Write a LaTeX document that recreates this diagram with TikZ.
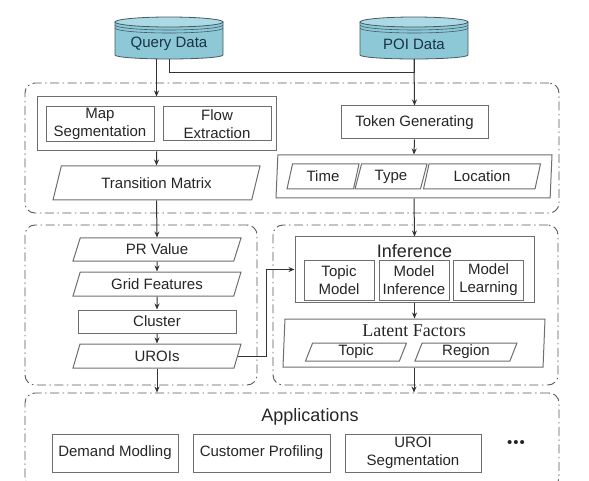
\documentclass[tikz,border=0pt]{standalone}
\usepackage{fontspec}
\setmainfont{Liberation Sans}
\newfontfamily\latentfont{Liberation Serif}
\usetikzlibrary{shapes.geometric,arrows.meta,calc,positioning}

\definecolor{drumfill}{RGB}{140,200,214}
\definecolor{drumtop}{RGB}{172,218,228}
\definecolor{drumline}{RGB}{70,90,98}
\definecolor{drumtext}{RGB}{25,50,70}
\definecolor{boxline}{RGB}{110,110,110}

\begin{document}
\begin{tikzpicture}[x=1pt, y=-1pt, >={Stealth[length=6pt,width=5pt]},
  box/.style={draw=boxline, line width=1pt, fill=white, inner sep=2pt, align=center,
    text=black!85, font=\fontsize{15}{17.5}\selectfont},
  para/.style={box, trapezium, trapezium left angle=61, trapezium right angle=119,
    trapezium stretches body},
  region/.style={draw=black!65, line width=0.9pt, rounded corners=10pt,
    dash pattern=on 9pt off 3.5pt on 1.5pt off 3.5pt},
  link/.style={draw=black!80, line width=1pt},
  title/.style={font=\fontsize{18}{20}\selectfont, text=black!85},
  drumlabel/.style={font=\fontsize{15}{17}\selectfont, text=drumtext,
    minimum width=108pt, minimum height=30pt}]
  \useasboundingbox (0,0) rectangle (589,481);

  % dashed stages
  \node[region, minimum width=534pt, minimum height=130pt] (topzone) at (292,148) {};
  \node[region, minimum width=232pt, minimum height=160pt] (leftzone) at (141,305) {};
  \node[region, minimum width=285pt, minimum height=160pt] (rightzone) at (415.5,305) {};
  \node[region, minimum width=534pt, minimum height=94pt] (appzone) at (292,440) {};

  % data sources
  \foreach \cx/\nm/\lbl in {169/query/{Query Data}, 414/poi/{POI Data}} {
    \fill[drumfill] (\cx-54,22) -- (\cx-54,55)
      arc[start angle=180, end angle=360, x radius=54pt, y radius=4pt] -- (\cx+54,22) -- cycle;
    \draw[drumline, line width=0.8pt] (\cx-54,22) -- (\cx-54,55)
      arc[start angle=180, end angle=360, x radius=54pt, y radius=4pt] -- (\cx+54,22);
    \draw[drumline, line width=0.8pt, fill=drumtop] (\cx,22) ellipse[x radius=54pt, y radius=5pt];
    \draw[drumline, line width=0.6pt] (\cx-54,25) arc[start angle=180, end angle=360, x radius=54pt, y radius=5pt];
    \draw[drumline, line width=0.6pt] (\cx-54,28) arc[start angle=180, end angle=360, x radius=54pt, y radius=5pt];
    \node[drumlabel] (\nm) at (\cx,44) {\lbl};
  }

  % query branch
  \node[box, minimum width=239pt, minimum height=54pt] (flowbox) at (156.5,124) {};
  \node[box, minimum width=108pt, minimum height=34pt] (mapseg) at (100,124) {Map\\Segmentation};
  \node[box, minimum width=108pt, minimum height=34pt] (flowex) at (217,124) {Flow\\Extraction};
  \node[para, minimum width=207pt, minimum height=34pt] (trans) at (156.5,183) {Transition Matrix};

  % poi branch
  \node[box, minimum width=147pt, minimum height=33pt] (token) at (414.5,122.5) {Token Generating};
  \node[para, trapezium left angle=65, trapezium right angle=115,
    minimum width=276pt, minimum height=43pt] (tokens) at (414,176.5) {};
  \node[para, trapezium left angle=67, trapezium right angle=113,
    minimum width=72pt, minimum height=25pt, inner ysep=1pt] (time) at (323,176.5) {Time};
  \node[para, trapezium left angle=67, trapezium right angle=113,
    minimum width=72pt, minimum height=25pt, inner ysep=1pt] (type) at (391,176.5) {Type};
  \node[para, trapezium left angle=67, trapezium right angle=113,
    minimum width=117pt, minimum height=25pt, inner ysep=1pt] (location) at (482,176.5) {Location};

  % region discovery
  \node[para, minimum width=168pt, minimum height=23pt, inner ysep=1pt] (prval) at (157,249.5) {PR Value};
  \node[para, minimum width=168pt, minimum height=24pt, inner ysep=1pt] (grid) at (157,284) {Grid Features};
  \node[box, minimum width=158pt, minimum height=23pt, inner ysep=1pt] (cluster) at (157,321.5) {Cluster};
  \node[para, minimum width=168pt, minimum height=24pt, inner ysep=1pt] (urois) at (157,356) {UROIs};

  % inference
  \node[box, minimum width=239pt, minimum height=65pt] (infer) at (414.5,269.5) {};
  \node[title] (infertitle) at (414.5,251) {Inference};
  \node[box, minimum width=70pt, minimum height=40pt, font=\fontsize{15}{18}\selectfont] (topicmod) at (339,280) {Topic\\Model};
  \node[box, minimum width=70pt, minimum height=40pt, font=\fontsize{15}{18}\selectfont] (modinf) at (414,280) {Model\\Inference};
  \node[box, minimum width=70pt, minimum height=40pt, font=\fontsize{15}{18}\selectfont] (modlearn) at (488.5,280) {Model\\Learning};

  \node[para, trapezium left angle=64, trapezium right angle=116,
    minimum width=262pt, minimum height=48pt] (latent) at (414,343) {};
  \node[font=\latentfont\fontsize{18}{20}\selectfont, text=black!85] (latentlbl) at (414,331) {Latent Factors};
  \node[para, trapezium left angle=63, trapezium right angle=117,
    minimum width=101pt, minimum height=18pt, inner ysep=0pt] (topic) at (356,352) {Topic};
  \node[para, trapezium left angle=63, trapezium right angle=117,
    minimum width=102pt, minimum height=18pt, inner ysep=0pt] (region) at (466,352) {Region};

  % applications
  \node[title] (apptitle) at (310,417) {Applications};
  \node[box, minimum width=126pt, minimum height=38pt] (demand) at (115,453) {Demand Modling};
  \node[box, minimum width=137pt, minimum height=38pt] (profile) at (261.5,453) {Customer Profiling};
  \node[box, minimum width=136pt, minimum height=38pt] (segment) at (413,453) {UROI\\Segmentation};
  \node[text=black!85] (more) at (516,444) {\fontsize{15}{15}\selectfont •\hspace{1pt}•\hspace{1pt}•};

  % connectors
  \draw[link,->] (query.south -| flowbox.north) -- (flowbox.north);
  \draw[link] (query.south) -- ++(0,13) -| (poi.south);
  \draw[link,->] (poi.south) -- (token.north);
  \draw[link,->] (flowbox.south) -- (trans.north);
  \draw[link,->] (token.south) -- (tokens.north);
  \draw[link,->] (trans.south) -- (prval.north);
  \draw[link,->] (tokens.south) -- (infer.north);
  \draw[link,->] (prval.south) -- (grid.north);
  \draw[link,->] (grid.south) -- (cluster.north);
  \draw[link,->] (cluster.south) -- (urois.north);
  \draw[link,->] (urois.east) -- ++(28,0) |- (infer.west);
  \draw[link,->] (infer.south) -- (infer.south |- latent.north);
  \draw[link,->] (urois.south) -- (urois.south |- appzone.north);
  \draw[link,->] (latent.south) -- (latent.south |- appzone.north);
\end{tikzpicture}
\end{document}
